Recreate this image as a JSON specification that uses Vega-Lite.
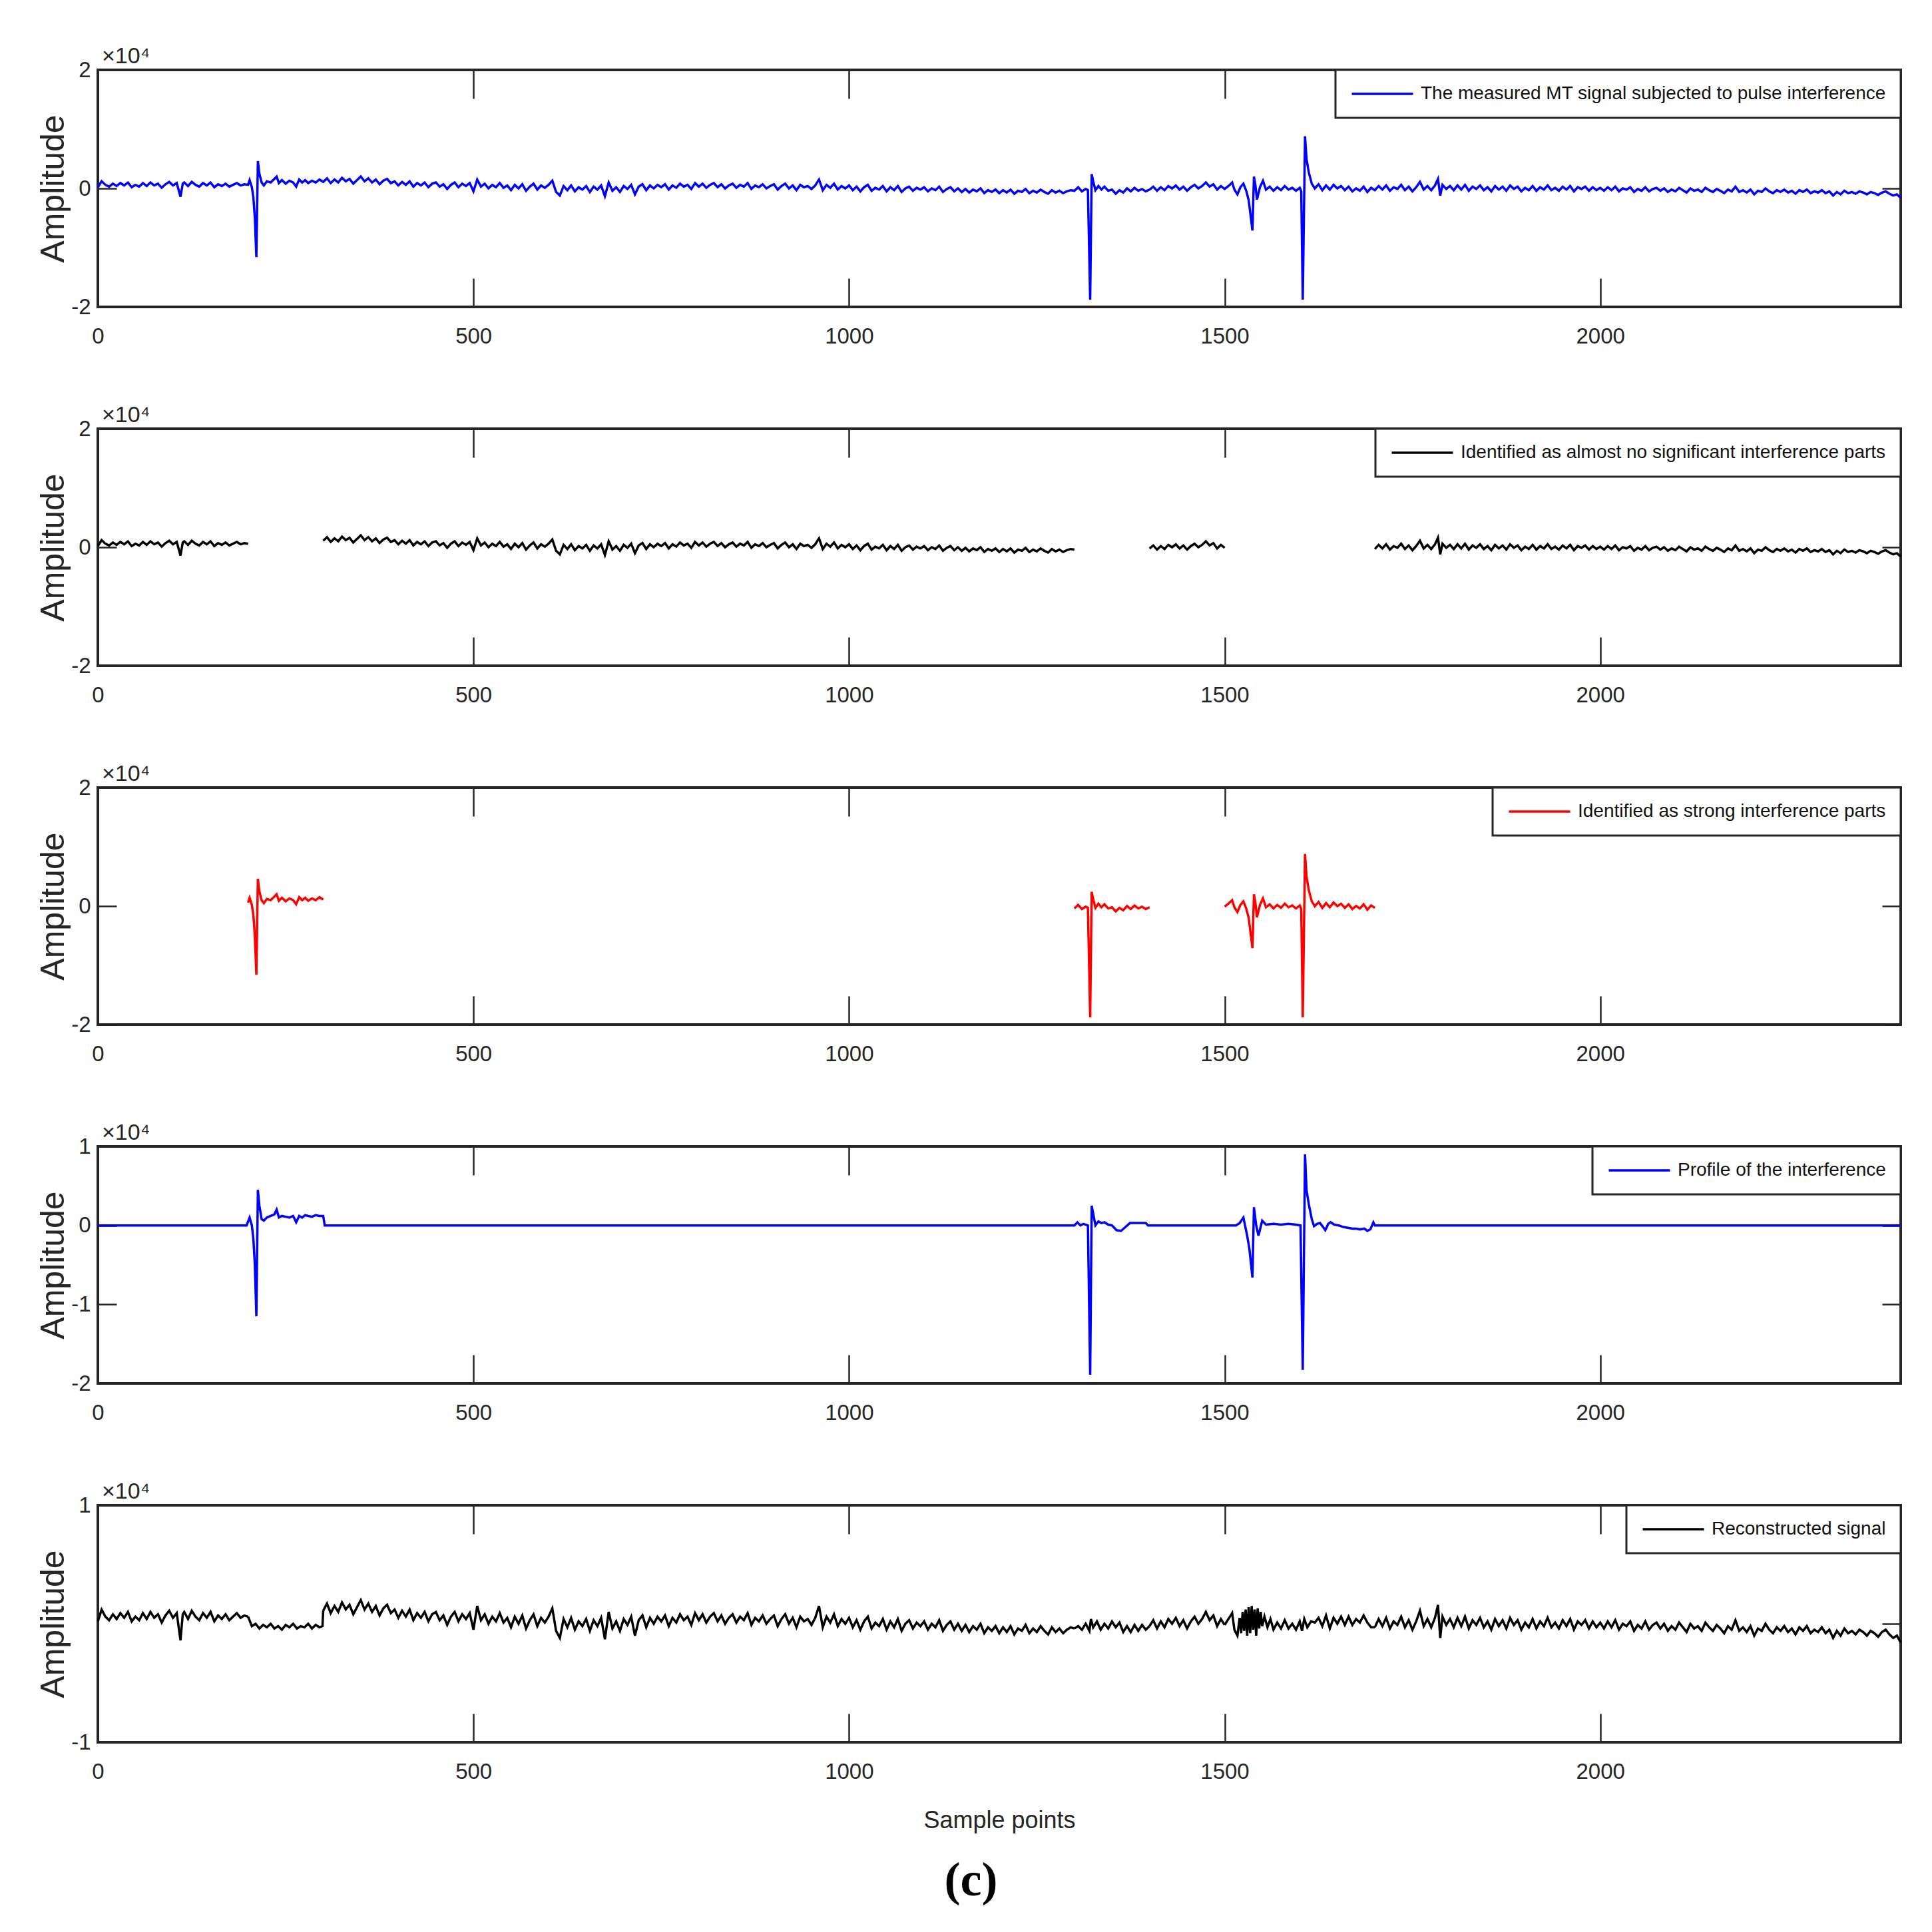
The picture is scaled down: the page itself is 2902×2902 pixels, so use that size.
{
"$schema": "https://vega.github.io/schema/vega-lite/v6.json",
"background": "white",
"padding": {"left": 53, "top": 66, "right": 40, "bottom": 20},
"config": {
  "view": {"stroke": "#262626", "strokeWidth": 4},
  "axis": {"grid": false, "domain": false, "labelFont": "Liberation Sans", "labelFontSize": 33, "labelColor": "#262626", "tickColor": "#262626", "tickWidth": 2.5, "labelFlush": false, "titleFont": "Liberation Sans", "titleFontWeight": "normal", "titleColor": "#262626", "labelExpr": "replace(datum.label, '−', '-')"},
  "legend": {"title": null, "orient": "top-right", "offset": 0, "padding": 22, "strokeColor": "#262626", "fillColor": "white", "symbolType": "M-1,0H7", "symbolSize": 529, "symbolStrokeWidth": 3.5, "labelOffset": 78, "labelFont": "Liberation Sans", "labelFontSize": 28, "labelColor": "#111111", "labelLimit": 0, "cornerRadius": 0}
},
"datasets": {
"sig": [
{"x":0,"y":0.02,"seg":"n1"},{"x":5,"y":0.12,"seg":"n1"},{"x":10,"y":0.06,"seg":"n1"},{"x":15,"y":0.03,"seg":"n1"},{"x":20,"y":0.08,"seg":"n1"},{"x":25,"y":0.04,"seg":"n1"},{"x":30,"y":0.09,"seg":"n1"},{"x":35,"y":0.05,"seg":"n1"},{"x":40,"y":0.1,"seg":"n1"},{"x":45,"y":0.02,"seg":"n1"},
{"x":50,"y":0.06,"seg":"n1"},{"x":55,"y":0.03,"seg":"n1"},{"x":60,"y":0.09,"seg":"n1"},{"x":65,"y":0.04,"seg":"n1"},{"x":70,"y":0.1,"seg":"n1"},{"x":75,"y":0.05,"seg":"n1"},{"x":80,"y":0.08,"seg":"n1"},{"x":85,"y":0.01,"seg":"n1"},{"x":90,"y":0.07,"seg":"n1"},{"x":95,"y":0.11,"seg":"n1"},
{"x":100,"y":0.05,"seg":"n1"},{"x":105,"y":0.09,"seg":"n1"},{"x":110,"y":-0.14,"seg":"n1"},{"x":113,"y":0.08,"seg":"n1"},{"x":115,"y":0.1,"seg":"n1"},{"x":120,"y":0.04,"seg":"n1"},{"x":125,"y":0.11,"seg":"n1"},{"x":130,"y":0.06,"seg":"n1"},{"x":135,"y":0.03,"seg":"n1"},{"x":140,"y":0.09,"seg":"n1"},
{"x":145,"y":0.05,"seg":"n1"},{"x":150,"y":0.1,"seg":"n1"},{"x":155,"y":0.02,"seg":"n1"},{"x":160,"y":0.07,"seg":"n1"},{"x":165,"y":0.04,"seg":"n1"},{"x":170,"y":0.08,"seg":"n1"},{"x":175,"y":0.03,"seg":"n1"},{"x":180,"y":0.06,"seg":"n1"},{"x":185,"y":0.09,"seg":"n1"},{"x":190,"y":0.05,"seg":"n1"},
{"x":195,"y":0.07,"seg":"n1"},{"x":200,"y":0.06,"seg":"n1"},
{"x":200,"y":0.06,"seg":"s1"},{"x":202,"y":0.14,"seg":"s1"},{"x":205,"y":0.02,"seg":"s1"},{"x":207,"y":-0.15,"seg":"s1"},{"x":209,"y":-0.5,"seg":"s1"},{"x":211,"y":-1.16,"seg":"s1"},{"x":213,"y":0.46,"seg":"s1"},{"x":215,"y":0.25,"seg":"s1"},{"x":218,"y":0.1,"seg":"s1"},{"x":221,"y":0.05,"seg":"s1"},
{"x":225,"y":0.12,"seg":"s1"},{"x":230,"y":0.1,"seg":"s1"},{"x":235,"y":0.16,"seg":"s1"},{"x":238,"y":0.2,"seg":"s1"},{"x":241,"y":0.09,"seg":"s1"},{"x":245,"y":0.14,"seg":"s1"},{"x":250,"y":0.08,"seg":"s1"},{"x":255,"y":0.13,"seg":"s1"},{"x":260,"y":0.1,"seg":"s1"},{"x":264,"y":0.03,"seg":"s1"},
{"x":268,"y":0.15,"seg":"s1"},{"x":272,"y":0.1,"seg":"s1"},{"x":276,"y":0.14,"seg":"s1"},{"x":280,"y":0.09,"seg":"s1"},{"x":285,"y":0.13,"seg":"s1"},{"x":290,"y":0.1,"seg":"s1"},{"x":295,"y":0.15,"seg":"s1"},{"x":300,"y":0.11,"seg":"s1"},
{"x":300,"y":0.11,"seg":"n2"},{"x":305,"y":0.17,"seg":"n2"},{"x":310,"y":0.09,"seg":"n2"},{"x":315,"y":0.15,"seg":"n2"},{"x":320,"y":0.1,"seg":"n2"},{"x":325,"y":0.18,"seg":"n2"},{"x":330,"y":0.12,"seg":"n2"},{"x":335,"y":0.16,"seg":"n2"},{"x":340,"y":0.08,"seg":"n2"},{"x":345,"y":0.14,"seg":"n2"},
{"x":350,"y":0.2,"seg":"n2"},{"x":355,"y":0.12,"seg":"n2"},{"x":360,"y":0.17,"seg":"n2"},{"x":365,"y":0.1,"seg":"n2"},{"x":370,"y":0.15,"seg":"n2"},{"x":375,"y":0.07,"seg":"n2"},{"x":380,"y":0.13,"seg":"n2"},{"x":385,"y":0.16,"seg":"n2"},{"x":390,"y":0.09,"seg":"n2"},{"x":395,"y":0.12,"seg":"n2"},
{"x":400,"y":0.05,"seg":"n2"},{"x":405,"y":0.11,"seg":"n2"},{"x":410,"y":0.06,"seg":"n2"},{"x":415,"y":0.12,"seg":"n2"},{"x":420,"y":0.03,"seg":"n2"},{"x":425,"y":0.09,"seg":"n2"},{"x":430,"y":0.05,"seg":"n2"},{"x":435,"y":0.1,"seg":"n2"},{"x":440,"y":0.02,"seg":"n2"},{"x":445,"y":0.08,"seg":"n2"},
{"x":450,"y":0.1,"seg":"n2"},{"x":455,"y":0.03,"seg":"n2"},{"x":460,"y":0.07,"seg":"n2"},{"x":465,"y":-0.01,"seg":"n2"},{"x":470,"y":0.06,"seg":"n2"},{"x":475,"y":0.1,"seg":"n2"},{"x":480,"y":0.02,"seg":"n2"},{"x":485,"y":0.08,"seg":"n2"},{"x":490,"y":0.04,"seg":"n2"},{"x":495,"y":0.09,"seg":"n2"},
{"x":500,"y":-0.05,"seg":"n2"},{"x":505,"y":0.15,"seg":"n2"},{"x":510,"y":0.03,"seg":"n2"},{"x":515,"y":0.08,"seg":"n2"},{"x":520,"y":0.0,"seg":"n2"},{"x":525,"y":0.06,"seg":"n2"},{"x":530,"y":0.02,"seg":"n2"},{"x":535,"y":0.09,"seg":"n2"},{"x":540,"y":0.01,"seg":"n2"},{"x":545,"y":0.05,"seg":"n2"},
{"x":550,"y":-0.03,"seg":"n2"},{"x":555,"y":0.06,"seg":"n2"},{"x":560,"y":0.0,"seg":"n2"},{"x":565,"y":0.07,"seg":"n2"},{"x":570,"y":-0.04,"seg":"n2"},{"x":575,"y":0.03,"seg":"n2"},{"x":580,"y":0.08,"seg":"n2"},{"x":585,"y":-0.02,"seg":"n2"},{"x":590,"y":0.05,"seg":"n2"},{"x":595,"y":0.01,"seg":"n2"},
{"x":600,"y":0.06,"seg":"n2"},{"x":605,"y":0.13,"seg":"n2"},{"x":610,"y":-0.06,"seg":"n2"},{"x":615,"y":-0.12,"seg":"n2"},{"x":620,"y":0.04,"seg":"n2"},{"x":625,"y":-0.03,"seg":"n2"},{"x":630,"y":0.05,"seg":"n2"},{"x":635,"y":-0.05,"seg":"n2"},{"x":640,"y":0.02,"seg":"n2"},{"x":645,"y":-0.02,"seg":"n2"},
{"x":650,"y":0.04,"seg":"n2"},{"x":655,"y":-0.06,"seg":"n2"},{"x":660,"y":0.03,"seg":"n2"},{"x":665,"y":-0.02,"seg":"n2"},{"x":670,"y":0.05,"seg":"n2"},{"x":675,"y":-0.13,"seg":"n2"},{"x":680,"y":0.1,"seg":"n2"},{"x":685,"y":-0.04,"seg":"n2"},{"x":690,"y":0.02,"seg":"n2"},{"x":695,"y":-0.06,"seg":"n2"},
{"x":700,"y":0.04,"seg":"n2"},{"x":705,"y":-0.01,"seg":"n2"},{"x":710,"y":0.06,"seg":"n2"},{"x":715,"y":-0.1,"seg":"n2"},{"x":720,"y":0.03,"seg":"n2"},{"x":725,"y":0.07,"seg":"n2"},{"x":730,"y":-0.03,"seg":"n2"},{"x":735,"y":0.05,"seg":"n2"},{"x":740,"y":0.0,"seg":"n2"},{"x":745,"y":0.06,"seg":"n2"},
{"x":750,"y":0.02,"seg":"n2"},{"x":755,"y":0.07,"seg":"n2"},{"x":760,"y":-0.02,"seg":"n2"},{"x":765,"y":0.05,"seg":"n2"},{"x":770,"y":0.01,"seg":"n2"},{"x":775,"y":0.08,"seg":"n2"},{"x":780,"y":0.03,"seg":"n2"},{"x":785,"y":0.06,"seg":"n2"},{"x":790,"y":-0.01,"seg":"n2"},{"x":795,"y":0.09,"seg":"n2"},
{"x":800,"y":0.03,"seg":"n2"},{"x":805,"y":0.08,"seg":"n2"},{"x":810,"y":0.01,"seg":"n2"},{"x":815,"y":0.06,"seg":"n2"},{"x":820,"y":0.09,"seg":"n2"},{"x":825,"y":0.02,"seg":"n2"},{"x":830,"y":0.07,"seg":"n2"},{"x":835,"y":0.0,"seg":"n2"},{"x":840,"y":0.05,"seg":"n2"},{"x":845,"y":0.08,"seg":"n2"},
{"x":850,"y":0.01,"seg":"n2"},{"x":855,"y":0.06,"seg":"n2"},{"x":860,"y":0.03,"seg":"n2"},{"x":865,"y":0.09,"seg":"n2"},{"x":870,"y":-0.01,"seg":"n2"},{"x":875,"y":0.05,"seg":"n2"},{"x":880,"y":0.02,"seg":"n2"},{"x":885,"y":0.07,"seg":"n2"},{"x":890,"y":0.0,"seg":"n2"},{"x":895,"y":0.04,"seg":"n2"},
{"x":900,"y":0.07,"seg":"n2"},{"x":905,"y":-0.02,"seg":"n2"},{"x":910,"y":0.04,"seg":"n2"},{"x":915,"y":0.08,"seg":"n2"},{"x":920,"y":0.0,"seg":"n2"},{"x":925,"y":0.05,"seg":"n2"},{"x":930,"y":-0.03,"seg":"n2"},{"x":935,"y":0.06,"seg":"n2"},{"x":940,"y":0.02,"seg":"n2"},{"x":945,"y":0.04,"seg":"n2"},
{"x":950,"y":-0.01,"seg":"n2"},{"x":955,"y":0.05,"seg":"n2"},{"x":960,"y":0.15,"seg":"n2"},{"x":965,"y":-0.03,"seg":"n2"},{"x":970,"y":0.06,"seg":"n2"},{"x":975,"y":0.01,"seg":"n2"},{"x":980,"y":0.08,"seg":"n2"},{"x":985,"y":-0.02,"seg":"n2"},{"x":990,"y":0.04,"seg":"n2"},{"x":995,"y":0.0,"seg":"n2"},
{"x":1000,"y":0.05,"seg":"n2"},{"x":1005,"y":-0.03,"seg":"n2"},{"x":1010,"y":0.03,"seg":"n2"},{"x":1015,"y":-0.05,"seg":"n2"},{"x":1020,"y":0.02,"seg":"n2"},{"x":1025,"y":0.06,"seg":"n2"},{"x":1030,"y":-0.04,"seg":"n2"},{"x":1035,"y":0.01,"seg":"n2"},{"x":1040,"y":-0.02,"seg":"n2"},{"x":1045,"y":0.04,"seg":"n2"},
{"x":1050,"y":-0.05,"seg":"n2"},{"x":1055,"y":0.02,"seg":"n2"},{"x":1060,"y":-0.03,"seg":"n2"},{"x":1065,"y":0.04,"seg":"n2"},{"x":1070,"y":-0.06,"seg":"n2"},{"x":1075,"y":0.0,"seg":"n2"},{"x":1080,"y":0.03,"seg":"n2"},{"x":1085,"y":-0.04,"seg":"n2"},{"x":1090,"y":0.01,"seg":"n2"},{"x":1095,"y":-0.02,"seg":"n2"},
{"x":1100,"y":0.02,"seg":"n2"},{"x":1105,"y":-0.05,"seg":"n2"},{"x":1110,"y":0.0,"seg":"n2"},{"x":1115,"y":-0.03,"seg":"n2"},{"x":1120,"y":0.03,"seg":"n2"},{"x":1125,"y":-0.06,"seg":"n2"},{"x":1130,"y":-0.01,"seg":"n2"},{"x":1135,"y":0.02,"seg":"n2"},{"x":1140,"y":-0.05,"seg":"n2"},{"x":1145,"y":0.0,"seg":"n2"},
{"x":1150,"y":-0.06,"seg":"n2"},{"x":1155,"y":-0.01,"seg":"n2"},{"x":1160,"y":-0.07,"seg":"n2"},{"x":1165,"y":-0.02,"seg":"n2"},{"x":1170,"y":-0.05,"seg":"n2"},{"x":1175,"y":0.0,"seg":"n2"},{"x":1180,"y":-0.08,"seg":"n2"},{"x":1185,"y":-0.03,"seg":"n2"},{"x":1190,"y":-0.06,"seg":"n2"},{"x":1195,"y":-0.02,"seg":"n2"},
{"x":1200,"y":-0.08,"seg":"n2"},{"x":1205,"y":-0.03,"seg":"n2"},{"x":1210,"y":-0.07,"seg":"n2"},{"x":1215,"y":-0.02,"seg":"n2"},{"x":1220,"y":-0.09,"seg":"n2"},{"x":1225,"y":-0.04,"seg":"n2"},{"x":1230,"y":-0.06,"seg":"n2"},{"x":1235,"y":-0.01,"seg":"n2"},{"x":1240,"y":-0.08,"seg":"n2"},{"x":1245,"y":-0.04,"seg":"n2"},
{"x":1250,"y":-0.07,"seg":"n2"},{"x":1255,"y":-0.02,"seg":"n2"},{"x":1260,"y":-0.06,"seg":"n2"},{"x":1265,"y":-0.09,"seg":"n2"},{"x":1270,"y":-0.03,"seg":"n2"},{"x":1275,"y":-0.07,"seg":"n2"},{"x":1280,"y":-0.04,"seg":"n2"},{"x":1285,"y":-0.08,"seg":"n2"},{"x":1290,"y":-0.05,"seg":"n2"},{"x":1295,"y":-0.03,"seg":"n2"},
{"x":1300,"y":-0.04,"seg":"n2"},
{"x":1300,"y":-0.04,"seg":"s2"},{"x":1305,"y":0.02,"seg":"s2"},{"x":1310,"y":-0.05,"seg":"s2"},{"x":1315,"y":-0.01,"seg":"s2"},{"x":1318,"y":-0.03,"seg":"s2"},{"x":1321,"y":-1.88,"seg":"s2"},{"x":1323,"y":0.24,"seg":"s2"},{"x":1325,"y":0.12,"seg":"s2"},{"x":1328,"y":-0.03,"seg":"s2"},{"x":1332,"y":0.04,"seg":"s2"},
{"x":1336,"y":-0.02,"seg":"s2"},{"x":1340,"y":0.03,"seg":"s2"},{"x":1345,"y":-0.04,"seg":"s2"},{"x":1350,"y":-0.02,"seg":"s2"},{"x":1355,"y":-0.09,"seg":"s2"},{"x":1360,"y":-0.03,"seg":"s2"},{"x":1365,"y":-0.07,"seg":"s2"},{"x":1370,"y":0.0,"seg":"s2"},{"x":1375,"y":-0.05,"seg":"s2"},{"x":1380,"y":0.01,"seg":"s2"},
{"x":1385,"y":-0.04,"seg":"s2"},{"x":1390,"y":-0.01,"seg":"s2"},{"x":1395,"y":-0.05,"seg":"s2"},{"x":1400,"y":-0.02,"seg":"s2"},
{"x":1400,"y":-0.02,"seg":"n3"},{"x":1405,"y":0.03,"seg":"n3"},{"x":1410,"y":-0.04,"seg":"n3"},{"x":1415,"y":0.02,"seg":"n3"},{"x":1420,"y":-0.03,"seg":"n3"},{"x":1425,"y":0.04,"seg":"n3"},{"x":1430,"y":0.0,"seg":"n3"},{"x":1435,"y":0.05,"seg":"n3"},{"x":1440,"y":-0.02,"seg":"n3"},{"x":1445,"y":0.03,"seg":"n3"},
{"x":1450,"y":-0.04,"seg":"n3"},{"x":1455,"y":0.02,"seg":"n3"},{"x":1460,"y":0.06,"seg":"n3"},{"x":1465,"y":0.0,"seg":"n3"},{"x":1470,"y":0.04,"seg":"n3"},{"x":1475,"y":0.1,"seg":"n3"},{"x":1480,"y":0.03,"seg":"n3"},{"x":1485,"y":0.07,"seg":"n3"},{"x":1490,"y":-0.02,"seg":"n3"},{"x":1495,"y":0.04,"seg":"n3"},
{"x":1500,"y":-0.01,"seg":"n3"},
{"x":1500,"y":-0.01,"seg":"s3"},{"x":1505,"y":0.04,"seg":"s3"},{"x":1510,"y":0.1,"seg":"s3"},{"x":1513,"y":-0.02,"seg":"s3"},{"x":1517,"y":-0.1,"seg":"s3"},{"x":1521,"y":0.02,"seg":"s3"},{"x":1525,"y":0.08,"seg":"s3"},{"x":1529,"y":-0.05,"seg":"s3"},{"x":1532,"y":-0.2,"seg":"s3"},{"x":1535,"y":-0.5,"seg":"s3"},
{"x":1537,"y":-0.71,"seg":"s3"},{"x":1539,"y":0.2,"seg":"s3"},{"x":1541,"y":0.05,"seg":"s3"},{"x":1543,"y":-0.19,"seg":"s3"},{"x":1547,"y":0.02,"seg":"s3"},{"x":1551,"y":0.13,"seg":"s3"},{"x":1555,"y":-0.02,"seg":"s3"},{"x":1560,"y":0.03,"seg":"s3"},{"x":1565,"y":-0.04,"seg":"s3"},{"x":1570,"y":0.02,"seg":"s3"},
{"x":1575,"y":-0.03,"seg":"s3"},{"x":1580,"y":0.04,"seg":"s3"},{"x":1585,"y":-0.02,"seg":"s3"},{"x":1590,"y":0.01,"seg":"s3"},{"x":1595,"y":-0.04,"seg":"s3"},{"x":1600,"y":0.01,"seg":"s3"},{"x":1602,"y":-0.05,"seg":"s3"},{"x":1604,"y":-1.88,"seg":"s3"},{"x":1607,"y":0.88,"seg":"s3"},{"x":1609,"y":0.5,"seg":"s3"},
{"x":1612,"y":0.27,"seg":"s3"},{"x":1616,"y":0.08,"seg":"s3"},{"x":1620,"y":0.0,"seg":"s3"},{"x":1625,"y":0.07,"seg":"s3"},{"x":1630,"y":-0.03,"seg":"s3"},{"x":1635,"y":0.05,"seg":"s3"},{"x":1640,"y":-0.02,"seg":"s3"},{"x":1645,"y":0.06,"seg":"s3"},{"x":1650,"y":0.0,"seg":"s3"},{"x":1655,"y":0.04,"seg":"s3"},
{"x":1660,"y":-0.03,"seg":"s3"},{"x":1665,"y":0.03,"seg":"s3"},{"x":1670,"y":-0.05,"seg":"s3"},{"x":1675,"y":0.0,"seg":"s3"},{"x":1680,"y":-0.04,"seg":"s3"},{"x":1685,"y":0.03,"seg":"s3"},{"x":1690,"y":-0.06,"seg":"s3"},{"x":1695,"y":0.01,"seg":"s3"},{"x":1700,"y":-0.03,"seg":"s3"},
{"x":1700,"y":-0.03,"seg":"n4"},{"x":1705,"y":0.04,"seg":"n4"},{"x":1710,"y":-0.02,"seg":"n4"},{"x":1715,"y":0.05,"seg":"n4"},{"x":1720,"y":-0.04,"seg":"n4"},{"x":1725,"y":0.02,"seg":"n4"},{"x":1730,"y":-0.01,"seg":"n4"},{"x":1735,"y":0.06,"seg":"n4"},{"x":1740,"y":-0.03,"seg":"n4"},{"x":1745,"y":0.03,"seg":"n4"},
{"x":1750,"y":-0.05,"seg":"n4"},{"x":1755,"y":0.02,"seg":"n4"},{"x":1760,"y":0.11,"seg":"n4"},{"x":1765,"y":-0.02,"seg":"n4"},{"x":1770,"y":0.04,"seg":"n4"},{"x":1775,"y":-0.03,"seg":"n4"},{"x":1780,"y":0.05,"seg":"n4"},{"x":1784,"y":0.16,"seg":"n4"},{"x":1787,"y":-0.12,"seg":"n4"},{"x":1790,"y":0.06,"seg":"n4"},
{"x":1795,"y":-0.01,"seg":"n4"},{"x":1800,"y":0.04,"seg":"n4"},{"x":1805,"y":-0.03,"seg":"n4"},{"x":1810,"y":0.05,"seg":"n4"},{"x":1815,"y":-0.02,"seg":"n4"},{"x":1820,"y":0.06,"seg":"n4"},{"x":1825,"y":-0.04,"seg":"n4"},{"x":1830,"y":0.03,"seg":"n4"},{"x":1835,"y":-0.01,"seg":"n4"},{"x":1840,"y":0.05,"seg":"n4"},
{"x":1845,"y":-0.03,"seg":"n4"},{"x":1850,"y":0.02,"seg":"n4"},{"x":1855,"y":-0.05,"seg":"n4"},{"x":1860,"y":0.04,"seg":"n4"},{"x":1865,"y":-0.02,"seg":"n4"},{"x":1870,"y":0.03,"seg":"n4"},{"x":1875,"y":-0.04,"seg":"n4"},{"x":1880,"y":0.05,"seg":"n4"},{"x":1885,"y":-0.01,"seg":"n4"},{"x":1890,"y":0.03,"seg":"n4"},
{"x":1895,"y":-0.05,"seg":"n4"},{"x":1900,"y":0.01,"seg":"n4"},{"x":1905,"y":-0.03,"seg":"n4"},{"x":1910,"y":0.04,"seg":"n4"},{"x":1915,"y":-0.04,"seg":"n4"},{"x":1920,"y":0.02,"seg":"n4"},{"x":1925,"y":-0.02,"seg":"n4"},{"x":1930,"y":0.05,"seg":"n4"},{"x":1935,"y":-0.03,"seg":"n4"},{"x":1940,"y":0.01,"seg":"n4"},
{"x":1945,"y":-0.04,"seg":"n4"},{"x":1950,"y":0.03,"seg":"n4"},{"x":1955,"y":-0.02,"seg":"n4"},{"x":1960,"y":0.04,"seg":"n4"},{"x":1965,"y":-0.05,"seg":"n4"},{"x":1970,"y":0.02,"seg":"n4"},{"x":1975,"y":-0.01,"seg":"n4"},{"x":1980,"y":0.03,"seg":"n4"},{"x":1985,"y":-0.04,"seg":"n4"},{"x":1990,"y":0.02,"seg":"n4"},
{"x":1995,"y":-0.03,"seg":"n4"},{"x":2000,"y":0.01,"seg":"n4"},{"x":2005,"y":-0.04,"seg":"n4"},{"x":2010,"y":0.02,"seg":"n4"},{"x":2015,"y":-0.03,"seg":"n4"},{"x":2020,"y":0.03,"seg":"n4"},{"x":2025,"y":-0.05,"seg":"n4"},{"x":2030,"y":0.0,"seg":"n4"},{"x":2035,"y":-0.02,"seg":"n4"},{"x":2040,"y":0.02,"seg":"n4"},
{"x":2045,"y":-0.06,"seg":"n4"},{"x":2050,"y":-0.01,"seg":"n4"},{"x":2055,"y":-0.04,"seg":"n4"},{"x":2060,"y":0.02,"seg":"n4"},{"x":2065,"y":-0.05,"seg":"n4"},{"x":2070,"y":-0.01,"seg":"n4"},{"x":2075,"y":0.01,"seg":"n4"},{"x":2080,"y":-0.04,"seg":"n4"},{"x":2085,"y":0.0,"seg":"n4"},{"x":2090,"y":-0.06,"seg":"n4"},
{"x":2095,"y":-0.02,"seg":"n4"},{"x":2100,"y":-0.05,"seg":"n4"},{"x":2105,"y":0.01,"seg":"n4"},{"x":2110,"y":-0.03,"seg":"n4"},{"x":2115,"y":-0.07,"seg":"n4"},{"x":2120,"y":0.0,"seg":"n4"},{"x":2125,"y":-0.04,"seg":"n4"},{"x":2130,"y":-0.02,"seg":"n4"},{"x":2135,"y":-0.06,"seg":"n4"},{"x":2140,"y":0.01,"seg":"n4"},
{"x":2145,"y":-0.03,"seg":"n4"},{"x":2150,"y":-0.06,"seg":"n4"},{"x":2155,"y":-0.01,"seg":"n4"},{"x":2160,"y":-0.04,"seg":"n4"},{"x":2165,"y":-0.08,"seg":"n4"},{"x":2170,"y":-0.02,"seg":"n4"},{"x":2175,"y":-0.05,"seg":"n4"},{"x":2180,"y":0.03,"seg":"n4"},{"x":2185,"y":-0.06,"seg":"n4"},{"x":2190,"y":-0.03,"seg":"n4"},
{"x":2195,"y":-0.07,"seg":"n4"},{"x":2200,"y":-0.02,"seg":"n4"},{"x":2205,"y":-0.1,"seg":"n4"},{"x":2210,"y":-0.04,"seg":"n4"},{"x":2215,"y":-0.06,"seg":"n4"},{"x":2220,"y":0.0,"seg":"n4"},{"x":2225,"y":-0.05,"seg":"n4"},{"x":2230,"y":-0.08,"seg":"n4"},{"x":2235,"y":-0.03,"seg":"n4"},{"x":2240,"y":-0.06,"seg":"n4"},
{"x":2245,"y":-0.02,"seg":"n4"},{"x":2250,"y":-0.07,"seg":"n4"},{"x":2255,"y":-0.04,"seg":"n4"},{"x":2260,"y":-0.09,"seg":"n4"},{"x":2265,"y":-0.03,"seg":"n4"},{"x":2270,"y":-0.06,"seg":"n4"},{"x":2275,"y":-0.02,"seg":"n4"},{"x":2280,"y":-0.08,"seg":"n4"},{"x":2285,"y":-0.05,"seg":"n4"},{"x":2290,"y":-0.07,"seg":"n4"},
{"x":2295,"y":-0.03,"seg":"n4"},{"x":2300,"y":-0.08,"seg":"n4"},{"x":2305,"y":-0.05,"seg":"n4"},{"x":2310,"y":-0.12,"seg":"n4"},{"x":2315,"y":-0.06,"seg":"n4"},{"x":2320,"y":-0.1,"seg":"n4"},{"x":2325,"y":-0.04,"seg":"n4"},{"x":2330,"y":-0.08,"seg":"n4"},{"x":2335,"y":-0.06,"seg":"n4"},{"x":2340,"y":-0.09,"seg":"n4"},
{"x":2345,"y":-0.05,"seg":"n4"},{"x":2350,"y":-0.07,"seg":"n4"},{"x":2355,"y":-0.1,"seg":"n4"},{"x":2360,"y":-0.06,"seg":"n4"},{"x":2365,"y":-0.08,"seg":"n4"},{"x":2370,"y":-0.11,"seg":"n4"},{"x":2375,"y":-0.07,"seg":"n4"},{"x":2380,"y":-0.05,"seg":"n4"},{"x":2385,"y":-0.09,"seg":"n4"},{"x":2390,"y":-0.12,"seg":"n4"},
{"x":2395,"y":-0.1,"seg":"n4"},{"x":2400,"y":-0.16,"seg":"n4"}
],
"prof": [
{"x":0,"p":0},{"x":198,"p":0},{"x":202,"p":0.1},{"x":205,"p":0.0},{"x":207,"p":-0.17},{"x":209,"p":-0.5},{"x":211,"p":-1.15},{"x":213,"p":0.45},{"x":215,"p":0.25},{"x":218,"p":0.08},
{"x":221,"p":0.06},{"x":225,"p":0.1},{"x":230,"p":0.12},{"x":235,"p":0.14},{"x":238,"p":0.2},{"x":241,"p":0.1},{"x":245,"p":0.12},{"x":250,"p":0.11},{"x":255,"p":0.1},{"x":260,"p":0.12},
{"x":264,"p":0.04},{"x":268,"p":0.12},{"x":272,"p":0.1},{"x":276,"p":0.13},{"x":280,"p":0.12},{"x":285,"p":0.11},{"x":290,"p":0.13},{"x":295,"p":0.12},{"x":300,"p":0.12},{"x":302,"p":0},
{"x":1300,"p":0},{"x":1304,"p":0.04},{"x":1308,"p":0.0},{"x":1312,"p":0.02},{"x":1318,"p":0.0},{"x":1321,"p":-1.89},{"x":1323,"p":0.25},{"x":1325,"p":0.15},{"x":1328,"p":0.0},{"x":1332,"p":0.05},
{"x":1336,"p":0.03},{"x":1340,"p":0.04},{"x":1345,"p":0.01},{"x":1350,"p":0.0},{"x":1356,"p":-0.06},{"x":1362,"p":-0.07},{"x":1368,"p":-0.02},{"x":1374,"p":0.03},{"x":1385,"p":0.03},{"x":1395,"p":0.03},
{"x":1398,"p":0},{"x":1515,"p":0},{"x":1520,"p":0.03},{"x":1525,"p":0.1},{"x":1530,"p":-0.13},{"x":1533,"p":-0.3},{"x":1537,"p":-0.66},{"x":1539,"p":0.23},{"x":1542,"p":0.0},{"x":1545,"p":-0.13},
{"x":1550,"p":0.06},{"x":1555,"p":0.01},{"x":1565,"p":0.02},{"x":1575,"p":0.01},{"x":1585,"p":0.02},{"x":1595,"p":0.01},{"x":1601,"p":0.0},{"x":1604,"p":-1.83},{"x":1607,"p":0.9},{"x":1609,"p":0.45},
{"x":1612,"p":0.27},{"x":1616,"p":0.08},{"x":1619,"p":-0.01},{"x":1623,"p":0.02},{"x":1627,"p":0.03},{"x":1631,"p":-0.02},{"x":1634,"p":-0.06},{"x":1638,"p":0.02},{"x":1641,"p":0.04},{"x":1646,"p":0.01},
{"x":1652,"p":0.0},{"x":1658,"p":-0.02},{"x":1664,"p":-0.03},{"x":1670,"p":-0.04},{"x":1675,"p":-0.04},{"x":1680,"p":-0.05},{"x":1686,"p":-0.04},{"x":1690,"p":-0.07},{"x":1694,"p":-0.05},{"x":1698,"p":0.04},
{"x":1700,"p":0},{"x":2400,"p":0}
],
"rec": [
{"x":200,"r":0.06,"seg":"s1"},{"x":205,"r":-0.02,"seg":"s1"},{"x":210,"r":0.0,"seg":"s1"},{"x":215,"r":-0.04,"seg":"s1"},{"x":220,"r":-0.01,"seg":"s1"},{"x":225,"r":-0.03,"seg":"s1"},{"x":230,"r":0.0,"seg":"s1"},{"x":235,"r":-0.04,"seg":"s1"},{"x":240,"r":-0.02,"seg":"s1"},{"x":245,"r":-0.05,"seg":"s1"},
{"x":250,"r":-0.01,"seg":"s1"},{"x":255,"r":-0.03,"seg":"s1"},{"x":260,"r":0.0,"seg":"s1"},{"x":265,"r":-0.04,"seg":"s1"},{"x":270,"r":-0.02,"seg":"s1"},{"x":275,"r":-0.03,"seg":"s1"},{"x":280,"r":0.0,"seg":"s1"},{"x":285,"r":-0.04,"seg":"s1"},{"x":290,"r":-0.01,"seg":"s1"},{"x":295,"r":-0.03,"seg":"s1"},
{"x":299,"r":-0.02,"seg":"s1"},{"x":300,"r":0.11,"seg":"s1"},
{"x":1300,"r":-0.04,"seg":"s2"},{"x":1305,"r":-0.02,"seg":"s2"},{"x":1310,"r":-0.05,"seg":"s2"},{"x":1315,"r":0.0,"seg":"s2"},{"x":1320,"r":-0.06,"seg":"s2"},{"x":1322,"r":0.04,"seg":"s2"},{"x":1325,"r":-0.03,"seg":"s2"},{"x":1330,"r":0.02,"seg":"s2"},{"x":1335,"r":-0.05,"seg":"s2"},{"x":1340,"r":0.0,"seg":"s2"},
{"x":1345,"r":-0.04,"seg":"s2"},{"x":1350,"r":0.02,"seg":"s2"},{"x":1355,"r":-0.03,"seg":"s2"},{"x":1360,"r":0.01,"seg":"s2"},{"x":1365,"r":-0.07,"seg":"s2"},{"x":1370,"r":-0.02,"seg":"s2"},{"x":1375,"r":-0.07,"seg":"s2"},{"x":1380,"r":-0.01,"seg":"s2"},{"x":1385,"r":-0.06,"seg":"s2"},{"x":1390,"r":-0.01,"seg":"s2"},
{"x":1395,"r":-0.05,"seg":"s2"},{"x":1400,"r":-0.02,"seg":"s2"},
{"x":1500,"r":-0.01,"seg":"s3"},{"x":1505,"r":0.04,"seg":"s3"},{"x":1510,"r":0.09,"seg":"s3"},{"x":1513,"r":-0.05,"seg":"s3"},{"x":1517,"r":-0.1,"seg":"s3"},{"x":1520,"r":0.05,"seg":"s3"},{"x":1522,"r":-0.08,"seg":"s3"},{"x":1524,"r":0.1,"seg":"s3"},{"x":1526,"r":-0.06,"seg":"s3"},{"x":1528,"r":0.12,"seg":"s3"},
{"x":1530,"r":-0.1,"seg":"s3"},{"x":1532,"r":0.14,"seg":"s3"},{"x":1534,"r":-0.08,"seg":"s3"},{"x":1536,"r":0.15,"seg":"s3"},{"x":1538,"r":-0.05,"seg":"s3"},{"x":1540,"r":0.12,"seg":"s3"},{"x":1542,"r":-0.1,"seg":"s3"},{"x":1544,"r":0.13,"seg":"s3"},{"x":1546,"r":-0.04,"seg":"s3"},{"x":1548,"r":0.1,"seg":"s3"},
{"x":1550,"r":-0.02,"seg":"s3"},{"x":1553,"r":0.06,"seg":"s3"},{"x":1557,"r":-0.03,"seg":"s3"},{"x":1561,"r":0.04,"seg":"s3"},{"x":1565,"r":-0.05,"seg":"s3"},{"x":1570,"r":0.01,"seg":"s3"},{"x":1575,"r":-0.04,"seg":"s3"},{"x":1580,"r":0.03,"seg":"s3"},{"x":1585,"r":-0.04,"seg":"s3"},{"x":1590,"r":0.0,"seg":"s3"},
{"x":1595,"r":-0.05,"seg":"s3"},{"x":1600,"r":0.02,"seg":"s3"},{"x":1603,"r":-0.06,"seg":"s3"},{"x":1606,"r":0.04,"seg":"s3"},{"x":1610,"r":-0.03,"seg":"s3"},{"x":1615,"r":0.02,"seg":"s3"},{"x":1620,"r":0.01,"seg":"s3"},{"x":1625,"r":0.05,"seg":"s3"},{"x":1630,"r":-0.02,"seg":"s3"},{"x":1635,"r":0.07,"seg":"s3"},
{"x":1640,"r":-0.04,"seg":"s3"},{"x":1645,"r":0.05,"seg":"s3"},{"x":1650,"r":0.0,"seg":"s3"},{"x":1655,"r":0.06,"seg":"s3"},{"x":1660,"r":-0.01,"seg":"s3"},{"x":1665,"r":0.06,"seg":"s3"},{"x":1670,"r":-0.01,"seg":"s3"},{"x":1675,"r":0.04,"seg":"s3"},{"x":1680,"r":0.01,"seg":"s3"},{"x":1685,"r":0.07,"seg":"s3"},
{"x":1690,"r":0.01,"seg":"s3"},{"x":1695,"r":-0.03,"seg":"s3"},{"x":1700,"r":-0.03,"seg":"s3"}
]
},
"vconcat": [
{
 "width": 2708, "height": 356,
 "title": {"text": "×10⁴", "anchor": "start", "frame": "group", "font": "Liberation Sans", "fontSize": 34, "fontWeight": "normal", "color": "#262626", "offset": -13, "dx": 6},
 "data": {"name": "sig"},
 "layer": [
  {"mark": {"type": "line", "strokeWidth": 3.5},
   "encoding": {
    "x": {"field": "x", "type": "quantitative", "scale": {"domain": [0, 2400], "nice": false, "zero": false}, "axis": {"orient": "bottom", "values": [0, 500, 1000, 1500, 2000], "format": "d", "tickSize": -43, "labelPadding": 71, "title": null}},
    "y": {"field": "y", "type": "quantitative", "scale": {"domain": [-2, 2], "nice": false}, "axis": {"orient": "left", "values": [-2, 0, 2], "format": "d", "tickSize": -28, "labelPadding": 39, "labelBaseline": "middle", "title": "Amplitude", "titleFontSize": 50, "titleX": -52, "titleY": 178, "titleBaseline": "alphabetic", "titleAlign": "center", "titleAngle": 270}},
    "color": {"datum": "The measured MT signal subjected to pulse interference", "scale": {"range": ["#0000ff"]}, "legend": {"encode": {"legend": {"update": {"strokeWidth": {"value": 3}}}}}}
   }},
  {"mark": {"type": "line", "strokeOpacity": 0},
   "encoding": {
    "x": {"field": "x", "type": "quantitative", "scale": {"domain": [0, 2400], "nice": false, "zero": false}, "axis": {"orient": "top", "values": [500, 1000, 1500, 2000], "tickSize": -43, "labels": false, "title": null}},
    "y": {"field": "y", "type": "quantitative", "scale": {"domain": [-2, 2], "nice": false}, "axis": {"orient": "right", "values": [-2, 0, 2], "tickSize": -28, "labels": false, "title": null}}
   }}
 ],
 "resolve": {"axis": {"x": "independent", "y": "independent"}}
},
{
 "width": 2708, "height": 356,
 "title": {"text": "×10⁴", "anchor": "start", "frame": "group", "font": "Liberation Sans", "fontSize": 34, "fontWeight": "normal", "color": "#262626", "offset": -13, "dx": 6},
 "data": {"name": "sig"},
 "transform": [{"filter": {"field": "seg", "oneOf": ["n1", "n2", "n3", "n4"]}}],
 "layer": [
  {"mark": {"type": "line", "strokeWidth": 3.5},
   "encoding": {
    "x": {"field": "x", "type": "quantitative", "scale": {"domain": [0, 2400], "nice": false, "zero": false}, "axis": {"orient": "bottom", "values": [0, 500, 1000, 1500, 2000], "format": "d", "tickSize": -43, "labelPadding": 71, "title": null}},
    "y": {"field": "y", "type": "quantitative", "scale": {"domain": [-2, 2], "nice": false}, "axis": {"orient": "left", "values": [-2, 0, 2], "format": "d", "tickSize": -28, "labelPadding": 39, "labelBaseline": "middle", "title": "Amplitude", "titleFontSize": 50, "titleX": -52, "titleY": 178, "titleBaseline": "alphabetic", "titleAlign": "center", "titleAngle": 270}},
    "detail": {"field": "seg"},
    "color": {"datum": "Identified as almost no significant interference parts", "scale": {"range": ["#000000"]}, "legend": {"encode": {"legend": {"update": {"strokeWidth": {"value": 3}}}}}}
   }},
  {"mark": {"type": "line", "strokeOpacity": 0},
   "encoding": {
    "x": {"field": "x", "type": "quantitative", "scale": {"domain": [0, 2400], "nice": false, "zero": false}, "axis": {"orient": "top", "values": [500, 1000, 1500, 2000], "tickSize": -43, "labels": false, "title": null}},
    "y": {"field": "y", "type": "quantitative", "scale": {"domain": [-2, 2], "nice": false}, "axis": {"orient": "right", "values": [-2, 0, 2], "tickSize": -28, "labels": false, "title": null}},
    "detail": {"field": "seg"}
   }}
 ],
 "resolve": {"axis": {"x": "independent", "y": "independent"}}
},
{
 "width": 2708, "height": 356,
 "title": {"text": "×10⁴", "anchor": "start", "frame": "group", "font": "Liberation Sans", "fontSize": 34, "fontWeight": "normal", "color": "#262626", "offset": -13, "dx": 6},
 "data": {"name": "sig"},
 "transform": [{"filter": {"field": "seg", "oneOf": ["s1", "s2", "s3"]}}],
 "layer": [
  {"mark": {"type": "line", "strokeWidth": 3.5},
   "encoding": {
    "x": {"field": "x", "type": "quantitative", "scale": {"domain": [0, 2400], "nice": false, "zero": false}, "axis": {"orient": "bottom", "values": [0, 500, 1000, 1500, 2000], "format": "d", "tickSize": -43, "labelPadding": 71, "title": null}},
    "y": {"field": "y", "type": "quantitative", "scale": {"domain": [-2, 2], "nice": false}, "axis": {"orient": "left", "values": [-2, 0, 2], "format": "d", "tickSize": -28, "labelPadding": 39, "labelBaseline": "middle", "title": "Amplitude", "titleFontSize": 50, "titleX": -52, "titleY": 178, "titleBaseline": "alphabetic", "titleAlign": "center", "titleAngle": 270}},
    "detail": {"field": "seg"},
    "color": {"datum": "Identified as strong interference parts", "scale": {"range": ["#ff0000"]}, "legend": {"encode": {"legend": {"update": {"strokeWidth": {"value": 3}}}}}}
   }},
  {"mark": {"type": "line", "strokeOpacity": 0},
   "encoding": {
    "x": {"field": "x", "type": "quantitative", "scale": {"domain": [0, 2400], "nice": false, "zero": false}, "axis": {"orient": "top", "values": [500, 1000, 1500, 2000], "tickSize": -43, "labels": false, "title": null}},
    "y": {"field": "y", "type": "quantitative", "scale": {"domain": [-2, 2], "nice": false}, "axis": {"orient": "right", "values": [-2, 0, 2], "tickSize": -28, "labels": false, "title": null}},
    "detail": {"field": "seg"}
   }}
 ],
 "resolve": {"axis": {"x": "independent", "y": "independent"}}
},
{
 "width": 2708, "height": 356,
 "title": {"text": "×10⁴", "anchor": "start", "frame": "group", "font": "Liberation Sans", "fontSize": 34, "fontWeight": "normal", "color": "#262626", "offset": -13, "dx": 6},
 "data": {"name": "prof"},
 "layer": [
  {"mark": {"type": "line", "strokeWidth": 3.5},
   "encoding": {
    "x": {"field": "x", "type": "quantitative", "scale": {"domain": [0, 2400], "nice": false, "zero": false}, "axis": {"orient": "bottom", "values": [0, 500, 1000, 1500, 2000], "format": "d", "tickSize": -43, "labelPadding": 71, "title": null}},
    "y": {"field": "p", "type": "quantitative", "scale": {"domain": [-2, 1], "nice": false}, "axis": {"orient": "left", "values": [-2, -1, 0, 1], "format": "d", "tickSize": -28, "labelPadding": 39, "labelBaseline": "middle", "title": "Amplitude", "titleFontSize": 50, "titleX": -52, "titleY": 178, "titleBaseline": "alphabetic", "titleAlign": "center", "titleAngle": 270}},
    "color": {"datum": "Profile of the interference", "scale": {"range": ["#0000ff"]}, "legend": {"encode": {"legend": {"update": {"strokeWidth": {"value": 3}}}}}}
   }},
  {"mark": {"type": "line", "strokeOpacity": 0},
   "encoding": {
    "x": {"field": "x", "type": "quantitative", "scale": {"domain": [0, 2400], "nice": false, "zero": false}, "axis": {"orient": "top", "values": [500, 1000, 1500, 2000], "tickSize": -43, "labels": false, "title": null}},
    "y": {"field": "p", "type": "quantitative", "scale": {"domain": [-2, 1], "nice": false}, "axis": {"orient": "right", "values": [-2, -1, 0, 1], "tickSize": -28, "labels": false, "title": null}}
   }}
 ],
 "resolve": {"axis": {"x": "independent", "y": "independent"}}
},
{
 "width": 2708, "height": 356,
 "title": {"text": "×10⁴", "anchor": "start", "frame": "group", "font": "Liberation Sans", "fontSize": 34, "fontWeight": "normal", "color": "#262626", "offset": -13, "dx": 6},
 "layer": [
  {"data": {"name": "sig"},
   "transform": [{"filter": {"field": "seg", "oneOf": ["n1", "n2", "n3", "n4"]}}],
   "mark": {"type": "line", "strokeWidth": 3.5},
   "encoding": {
    "x": {"field": "x", "type": "quantitative", "scale": {"domain": [0, 2400], "nice": false, "zero": false}, "axis": {"orient": "bottom", "values": [0, 500, 1000, 1500, 2000], "format": "d", "tickSize": -43, "labelPadding": 71, "title": "Sample points", "titleFont": "Liberation Sans", "titleFontSize": 36, "titleY": 128, "titleBaseline": "alphabetic"}},
    "y": {"field": "y", "type": "quantitative", "scale": {"domain": [-1, 1], "nice": false}, "axis": {"orient": "left", "values": [-1, 0, 1], "format": "d", "tickSize": -28, "labelPadding": 39, "labelBaseline": "middle", "title": "Amplitude", "titleFontSize": 50, "titleX": -52, "titleY": 178, "titleBaseline": "alphabetic", "titleAlign": "center", "titleAngle": 270}},
    "detail": {"field": "seg"},
    "color": {"datum": "Reconstructed signal", "scale": {"range": ["#000000"]}, "legend": {"encode": {"legend": {"update": {"strokeWidth": {"value": 3}}}}}}
   }},
  {"data": {"name": "rec"},
   "mark": {"type": "line", "strokeWidth": 3.5, "color": "#000000"},
   "encoding": {
    "x": {"field": "x", "type": "quantitative", "scale": {"domain": [0, 2400], "nice": false, "zero": false}, "axis": {"orient": "top", "values": [500, 1000, 1500, 2000], "tickSize": -43, "labels": false, "title": null}},
    "y": {"field": "r", "type": "quantitative", "scale": {"domain": [-1, 1], "nice": false}, "axis": {"orient": "right", "values": [-1, 0, 1], "tickSize": -28, "labels": false, "title": null}},
    "detail": {"field": "seg"}
   }}
 ],
 "resolve": {"axis": {"x": "independent", "y": "independent"}}
}
],
"spacing": 183,
"bounds": "flush",
"resolve": {"scale": {"color": "independent"}, "legend": {"color": "independent"}},
"title": {"text": "(c)", "orient": "bottom", "anchor": "middle", "font": "Liberation Serif", "fontSize": 72, "fontWeight": "bold", "color": "#000000", "offset": 36}
}
